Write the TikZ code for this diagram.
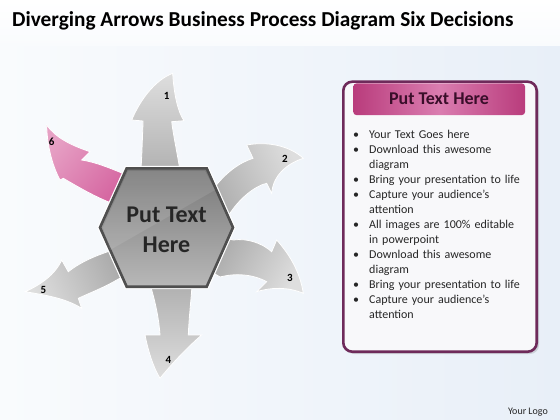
\documentclass[tikz,border=0pt]{standalone}
\usepackage{fontspec}
\setmainfont{Carlito}
\usetikzlibrary{shadings}
\definecolor{bgTop}{HTML}{FFFFFF}
\definecolor{bgBlue}{HTML}{E8EFF8}
\definecolor{bgLow}{HTML}{F9FBFD}
\definecolor{arrLight}{HTML}{DEDEDE}
\definecolor{arrDark}{HTML}{A9A9A9}
\definecolor{pinkLight}{HTML}{E6A0C4}
\definecolor{pinkDark}{HTML}{D35E9C}
\definecolor{hexTop}{HTML}{787878}
\definecolor{hexBot}{HTML}{B8B8B8}
\definecolor{hexEdge}{HTML}{4F4F4F}
\definecolor{panelEdge}{HTML}{6E2A5A}
\definecolor{panelFill}{HTML}{F8F8FA}
\definecolor{headA}{HTML}{B93C7C}
\definecolor{headB}{HTML}{DA7DB0}
\definecolor{headText}{HTML}{3A0E2A}
\definecolor{txt}{HTML}{262626}
\newcommand{\bitem}[1]{\par\hangindent=17pt\hangafter=1\noindent\makebox[17pt][l]{\hspace{1pt}\textbullet}#1}
\tikzset{
  garrow/.style={draw=white, line width=0.8pt, shading=axis, top color=arrLight, bottom color=arrDark, shading angle=#1},
  parrow/.style={draw=white, line width=0.8pt, shading=axis, top color=pinkLight, bottom color=pinkDark, shading angle=#1},
  numlbl/.style={font=\bfseries\fontsize{11}{12}\selectfont, text=black, inner sep=0pt},
}
\begin{document}
\begin{tikzpicture}[x=1pt,y=-1pt]
\useasboundingbox (0,0) rectangle (560,420);
% background
\shade[left color=bgLow, right color=bgBlue] (0,44) rectangle (560,420);
\shade[top color=bgTop, bottom color=bgLow] (0,0) rectangle (560,46);

% title
\node[anchor=base west, inner sep=0pt, font=\bfseries\fontsize{21.3}{24}\selectfont, text=black] (title) at (12,27) {Diverging Arrows Business Process Diagram Six Decisions};

% arrow 1 (up)
\path[garrow=0] (140,190) -- (142,150) .. controls (142.5,135) and (143,125) .. (143,121)
  -- (131.7,120) .. controls (140,100) and (155,80) .. (172.7,73.3)
  .. controls (174,95) and (178,112) .. (184,120.7)
  -- (171.7,121.7) .. controls (174,140) and (178,155) .. (183,190) -- cycle;
% arrow 2 (upper right)
\path[garrow=-65] (200,195) -- (215,186.7) .. controls (225,174) and (238,163) .. (253,158.3)
  -- (246.7,145) .. controls (268,141) and (290,146) .. (303.3,158.3)
  .. controls (286,164) and (273,176) .. (271.7,193.3)
  -- (266.7,183.3) .. controls (255,186) and (240,198) .. (230,213.3) -- (215,222) -- cycle;
% arrow 3 (lower right)
\path[garrow=-120] (215,236) -- (233.3,240) .. controls (247,238) and (262,243) .. (271.7,251.7)
  -- (276.7,240) .. controls (290,255) and (300,272) .. (303.3,293.3)
  .. controls (288,287) and (272,287) .. (256.7,291.7)
  -- (266.7,281.7) .. controls (252,274) and (236,273) .. (220,277) -- (205,268) -- cycle;
% arrow 4 (down)
\path[garrow=180] (146,270) -- (151.7,290) .. controls (156,305) and (159,320) .. (160,335)
  -- (145,335) .. controls (148,350) and (153,367) .. (160,378.3)
  .. controls (175,360) and (190,345) .. (201.7,335)
  -- (188.3,335) .. controls (189,318) and (191,300) .. (191.7,290) -- (192,270) -- cycle;
% arrow 5 (lower left)
\path[garrow=115] (118,248) -- (103.3,253.3) .. controls (90,258) and (78,264) .. (68.3,271.7)
  -- (61.7,260) .. controls (55,275) and (40,285) .. (25,291.7)
  .. controls (45,295) and (65,298) .. (81.7,308.3)
  -- (78.3,298.3) .. controls (92,292) and (105,287) .. (116.7,280) -- (128,274) -- cycle;
% arrow 6 (upper left, pink)
\path[parrow=50] (136,182) -- (126.7,175) .. controls (110,168) and (95,162) .. (81.7,160)
  -- (90,151.7) .. controls (70,145) and (55,137) .. (46.7,125)
  .. controls (47,145) and (52,165) .. (60,180)
  -- (63.3,178.3) .. controls (80,188) and (100,200) .. (121.7,206.7) -- (128,212) -- cycle;

% numbers
\node[numlbl] (n1) at (166.7,96) {1};
\node[numlbl] (n2) at (285,159.3) {2};
\node[numlbl] (n3) at (290,278.3) {3};
\node[numlbl] (n4) at (168.3,360) {4};
\node[numlbl] (n5) at (43.3,290) {5};
\node[numlbl] (n6) at (51.7,141.7) {6};

% hexagon
\draw[white, line width=5pt, line join=miter] (100,227.5) -- (126.7,168.3) -- (206.7,168.3) -- (233,227.5) -- (206.7,286.7) -- (126.7,286.7) -- cycle;
\draw[hexEdge, line width=2.6pt, top color=hexTop, bottom color=hexBot] (100,227.5) -- (126.7,168.3) -- (206.7,168.3) -- (233,227.5) -- (206.7,286.7) -- (126.7,286.7) -- cycle;
\fill[white, opacity=0.10] (103,227.5) -- (128,171) -- (205,171) -- (215,190) -- (110,250) -- cycle;
\node[font=\bfseries\fontsize{24}{30}\selectfont, text=txt, align=center, inner sep=0pt] (hextext) at (166.5,230) {Put Text\\Here};

% panel
\fill[black, opacity=0.12, rounded corners=9pt] (345,84) rectangle (539,354);
\draw[panelEdge, line width=2.6pt, fill=panelFill, rounded corners=9pt] (343.3,81.7) rectangle (536.7,351.7);
\shade[left color=headA, right color=headA, middle color=headB, rounded corners=3pt] (353.3,83.5) rectangle (525,115);
\node[anchor=base, inner sep=0pt, font=\bfseries\fontsize{18}{21}\selectfont, text=headText] (head) at (439,104) {Put Text Here};
\node[anchor=north west, inner sep=0pt, text width=180pt, font=\fontsize{12}{15}\selectfont, text=txt] (list) at (352,123.5) {%
\bitem{Your Text Goes here}
\bitem{Download this awesome\newline diagram}
\bitem{Bring your presentation to life}
\bitem{Capture your audience’s\newline attention}
\bitem{All images are 100\% editable\newline in powerpoint}
\bitem{Download this awesome\newline diagram}
\bitem{Bring your presentation to life}
\bitem{Capture your audience’s\newline attention}\par};

% logo
\node[font=\fontsize{10}{12}\selectfont, text=txt, inner sep=0pt] (logo) at (528,412) {Your Logo};
\end{tikzpicture}
\end{document}
